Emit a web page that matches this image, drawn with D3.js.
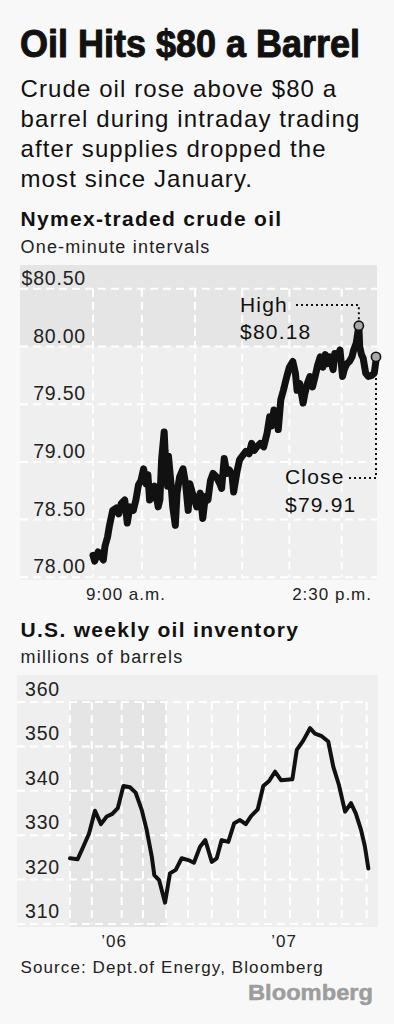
<!DOCTYPE html>
<html><head><meta charset="utf-8">
<script src="https://cdn.jsdelivr.net/npm/d3@7"></script>
<style>
html,body{margin:0;padding:0;background:#f8f8f8;}
svg{display:block;}
text{font-family:"Liberation Sans",Arial,Helvetica,sans-serif;fill:#111;}
</style></head><body>
<svg id="c" width="394" height="1024"></svg>
<script>
// ---------- text ----------
const titleText = "Oil Hits $80 a Barrel";
const subtitleLines = ["Crude oil rose above $80 a","barrel during intraday trading","after supplies dropped the","most since January."];
const chart1Title = "Nymex-traded crude oil";
const chart1Sub = "One-minute intervals";
const chart2Title = "U.S. weekly oil inventory";
const chart2Sub = "millions of barrels";
const sourceText = "Source: Dept.of Energy, Bloomberg";
const logoText = "Bloomberg";

// ---------- chart 1: Nymex crude, one-minute intervals (minutes after 9:00 a.m.) ----------
const priceMinutes = [0,2,6,12,14,17,19,23,27,30,33,37,40,43,47,50,53,56,59,62,64,66,70,72,76,78,80,83,84,87,88,91,93,96,98,101,105,108,111,113,117,121,125,128,131,134,137,140,144,148,150,153,156,159,162,164,168,171,175,178,182,185,188,191,195,199,203,206,208,211,214,216,219,222,226,229,233,236,238,241,245,247,250,253,256,259,262,265,268,271,273,276,280,282,285,288,291,293,296,299,302,304,307,309,310,311,313,315,318,321,325,328,330];
const priceValues = [78.19,78.14,78.22,78.15,78.27,78.35,78.44,78.58,78.60,78.55,78.64,78.67,78.47,78.61,78.58,78.67,78.80,78.84,78.94,78.81,78.89,78.67,78.70,78.79,78.61,78.67,79.02,79.26,79.10,78.79,79.05,78.81,78.61,78.45,78.73,78.87,78.94,78.81,78.58,78.81,78.70,78.61,78.73,78.51,78.70,78.67,78.84,78.90,78.87,78.81,78.77,79.03,78.90,78.93,78.89,78.74,78.92,79.02,79.06,79.09,79.07,79.16,79.10,79.13,79.16,79.13,79.25,79.39,79.31,79.45,79.42,79.28,79.54,79.62,79.74,79.82,79.87,79.77,79.62,79.68,79.51,79.59,79.68,79.74,79.65,79.74,79.84,79.91,79.82,79.93,79.85,79.91,79.80,79.94,79.90,79.97,79.74,79.80,79.85,79.87,79.91,79.97,80.03,80.13,80.18,80.00,79.93,79.90,79.77,79.74,79.75,79.77,79.88];
const priceTicks = [78, 78.5, 79, 79.5, 80, 80.5];
const priceTickLabels = ["78.00","78.50","79.00","79.50","80.00","$80.50"];
const timeGridMinutes = [0, 57, 119, 174, 229, 290];
const timeLabelMinutes = [0, 330];
const timeLabels = ["9:00 a.m.", "2:30 p.m."];
const noteLabels = ["High", "Close"];
const noteValueLabels = ["$80.18", "$79.91"];
const noteMinutes = [310, 330];
const noteValues = [80.18, 79.91];

// ---------- chart 2: U.S. weekly oil inventory (decimal year) ----------
const invYears = [2005.740,2005.785,2005.818,2005.852,2005.887,2005.922,2005.956,2005.989,2006.021,2006.054,2006.093,2006.126,2006.162,2006.191,2006.221,2006.236,2006.264,2006.299,2006.328,2006.362,2006.397,2006.436,2006.469,2006.505,2006.536,2006.574,2006.603,2006.632,2006.671,2006.706,2006.740,2006.774,2006.805,2006.844,2006.877,2006.911,2006.946,2006.981,2007.048,2007.074,2007.112,2007.152,2007.181,2007.221,2007.259,2007.289,2007.322,2007.358,2007.393,2007.421,2007.452,2007.475,2007.495];
const invValues = [324.8,324.6,327.4,330.4,335.5,332.5,334.2,334.8,336.1,341.1,340.8,339.6,335.7,331.2,325.2,321.0,319.9,314.8,321.4,322.2,324.8,324.4,323.8,327.4,328.9,324.0,324.8,328.9,328.5,332.7,333.4,332.5,334.3,335.8,341.1,342.2,344.3,342.4,342.6,349.2,351.3,354.1,352.9,352.3,351.1,345.4,341.3,335.3,337.2,334.9,331.2,327.4,322.5];
const invTicks = [310, 320, 330, 340, 350, 360];
const invGridYears = [2005.74,2005.868,2006.044,2006.169,2006.305,2006.434,2006.574,2006.728,2006.887,2007.034,2007.199,2007.338,2007.485];
const yearTicks = [2006, 2007];
const yearLabels = ["\u201906", "\u201907"];
const invShadeYears = [2005.74, 2006.305];

// ---------- drawing ----------
const svg = d3.select("#c");
svg.append("rect").attr("width",394).attr("height",1024).attr("fill","#f8f8f8");

svg.append("text").attr("x",20).attr("y",57).text(titleText)
  .attr("font-family",'"Liberation Sans Narrow","Arial Narrow","DejaVu Sans Condensed",sans-serif')
  .attr("font-size",38).attr("font-weight","bold")
  .attr("textLength",340).attr("lengthAdjust","spacingAndGlyphs")
  .attr("stroke","#111").attr("stroke-width",1).attr("stroke-linejoin","round");

svg.selectAll("text.sub").data(subtitleLines).join("text").attr("class","sub")
  .attr("x",20.5).attr("y",(d,i)=>96.7+i*30).attr("font-size",24).attr("letter-spacing",1.1).text(d=>d);

function heading(txt,y){ return svg.append("text").attr("x",20.5).attr("y",y).attr("font-size",21).attr("font-weight","bold").attr("letter-spacing",1.3).text(txt); }
function subhead(txt,y){ return svg.append("text").attr("x",20.5).attr("y",y).attr("font-size",18).attr("letter-spacing",1.2).style("fill","#222").text(txt); }
heading(chart1Title,226);
subhead(chart1Sub,253.3);

// chart 1 scales
const x1 = d3.scaleLinear().domain([0,330]).range([93,376]);
const y1 = d3.scaleLinear().domain([78,80.5]).range([577.3,288.8]);
const p1 = {l:20,r:377,t:265,b:580};
const g1 = svg.append("g");
g1.append("rect").attr("x",p1.l).attr("y",p1.t).attr("width",p1.r-p1.l).attr("height",p1.b-p1.t).attr("fill","#efefef");
g1.append("rect").attr("x",p1.l).attr("y",p1.t).attr("width",p1.r-p1.l).attr("height",y1(80)-p1.t).attr("fill","#e5e5e5");
g1.selectAll("line.h").data(priceTicks).join("line").attr("class","h")
  .attr("x1",p1.l).attr("x2",p1.r).attr("y1",d=>y1(d)).attr("y2",d=>y1(d))
  .attr("stroke","#fff").attr("stroke-width",2).attr("stroke-dasharray","8,5");
g1.selectAll("line.v").data(timeGridMinutes).join("line").attr("class","v")
  .attr("x1",d=>x1(d)).attr("x2",d=>x1(d)).attr("y1",y1(80.5)).attr("y2",y1(78))
  .attr("stroke","#fff").attr("stroke-width",2).attr("stroke-dasharray","8,5");
g1.selectAll("text.yl").data(priceTicks).join("text").attr("class","yl")
  .attr("x",86).attr("y",d=>y1(d)-4).attr("text-anchor","end").attr("font-size",19.5).attr("letter-spacing",0.8)
  .style("fill","#222").text((d,i)=>priceTickLabels[i]);
g1.selectAll("text.xl").data(timeLabelMinutes).join("text").attr("class","xl")
  .attr("x",(d,i)=> i===0 ? x1(d)-7 : x1(d)-4).attr("y",600)
  .attr("text-anchor",(d,i)=> i===0 ? "start" : "end").attr("font-size",17).attr("letter-spacing",1)
  .style("fill","#222").text((d,i)=>timeLabels[i]);

const line1 = d3.line().x((d,i)=>x1(priceMinutes[i])).y(d=>y1(d));
g1.append("path").datum(priceValues).attr("d",line1).attr("fill","none")
  .attr("stroke","#111").attr("stroke-width",7).attr("stroke-linejoin","round").attr("stroke-linecap","round");

// annotations
const r = 4.6;
const hx = x1(noteMinutes[0]), hy = y1(noteValues[0]);
const cx = x1(noteMinutes[1]), cy = y1(noteValues[1]);
g1.append("text").attr("x",240).attr("y",311.7).attr("font-size",21).attr("letter-spacing",1.2).text(noteLabels[0]);
g1.append("text").attr("x",240).attr("y",339.3).attr("font-size",21).attr("letter-spacing",1.2).text(noteValueLabels[0]);
g1.append("text").attr("x",285).attr("y",484).attr("font-size",21).attr("letter-spacing",1.2).text(noteLabels[1]);
g1.append("text").attr("x",285).attr("y",511.7).attr("font-size",21).attr("letter-spacing",1.2).text(noteValueLabels[1]);
g1.append("path").attr("d",`M296,305H${hx}V${hy-r-1}`).attr("fill","none")
  .attr("stroke","#111").attr("stroke-width",2).attr("stroke-dasharray","2,3");
g1.append("path").attr("d",`M349,478H${cx}V${cy+r+1}`).attr("fill","none")
  .attr("stroke","#111").attr("stroke-width",2).attr("stroke-dasharray","2,3");
g1.selectAll("circle").data(noteValues).join("circle")
  .attr("cx",(d,i)=>x1(noteMinutes[i])).attr("cy",d=>y1(d)).attr("r",r)
  .attr("fill","#a9a9a9").attr("stroke","#111").attr("stroke-width",1.6);

// chart 2
heading(chart2Title,636.7);
subhead(chart2Sub,663.3);
const x2 = d3.scaleLinear().domain([2005.74,2007.49]).range([70,367.5]);
const y2 = d3.scaleLinear().domain([310,360]).range([924,702]);
const p2 = {l:17,r:378,t:675,b:927};
const g2 = svg.append("g");
g2.append("rect").attr("x",p2.l).attr("y",p2.t).attr("width",p2.r-p2.l).attr("height",p2.b-p2.t).attr("fill","#efefef");
g2.append("rect").attr("x",x2(invShadeYears[0])).attr("y",y2(360)-2).attr("width",x2(invShadeYears[1])-x2(invShadeYears[0]))
  .attr("height",p2.b-y2(360)+2).attr("fill","#e5e5e5");
g2.selectAll("line.h").data(invTicks).join("line").attr("class","h")
  .attr("x1",p2.l).attr("x2",x2(invGridYears[invGridYears.length-1])).attr("y1",d=>y2(d)).attr("y2",d=>y2(d))
  .attr("stroke","#fff").attr("stroke-width",2).attr("stroke-dasharray","8,5");
g2.selectAll("line.v").data(invGridYears).join("line").attr("class","v")
  .attr("x1",d=>x2(d)).attr("x2",d=>x2(d)).attr("y1",y2(360)).attr("y2",y2(310))
  .attr("stroke","#fff").attr("stroke-width",2).attr("stroke-dasharray","8,5");
g2.selectAll("text.yl").data(invTicks).join("text").attr("class","yl")
  .attr("x",25).attr("y",d=>y2(d)-6).attr("font-size",19.5).attr("letter-spacing",0.8)
  .style("fill","#222").text(d=>d);
g2.selectAll("text.xl").data(yearTicks).join("text").attr("class","xl")
  .attr("x",d=>x2(d)).attr("y",946.7).attr("text-anchor","middle").attr("font-size",17).attr("letter-spacing",1)
  .style("fill","#222").text((d,i)=>yearLabels[i]);
const line2 = d3.line().x((d,i)=>x2(invYears[i])).y(d=>y2(d));
g2.append("path").datum(invValues).attr("d",line2).attr("fill","none")
  .attr("stroke","#111").attr("stroke-width",4).attr("stroke-linejoin","round").attr("stroke-linecap","round");

svg.append("text").attr("x",20.5).attr("y",973.3).attr("font-size",17).attr("letter-spacing",1.1).style("fill","#222").text(sourceText);
svg.append("text").attr("x",248).attr("y",1000).attr("font-size",22).attr("font-weight","bold")
  .attr("textLength",125).attr("lengthAdjust","spacingAndGlyphs").style("fill","#9d9d9d")
  .attr("stroke","#9d9d9d").attr("stroke-width",0.5).text(logoText);
</script>
</body></html>
